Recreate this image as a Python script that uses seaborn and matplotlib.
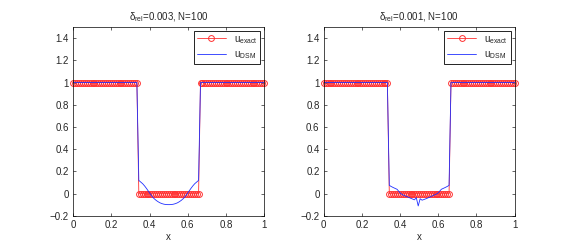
import numpy as np
import matplotlib

matplotlib.use('Agg')
import matplotlib.pyplot as plt
import seaborn as sns

# grid of N=100 points on [0, 1]
x = np.linspace(0, 1, 100)

# exact solution: 1 outside the middle third, 0 inside
u_exact = [1] * 34 + [0] * 32 + [1] * 34

# DSM reconstruction in the middle third
dsm_mid_003 = [0.12, 0.105, 0.09, 0.07, 0.047, 0.022, -0.003, -0.027,
               -0.045, -0.06, -0.072, -0.082, -0.089, -0.094, -0.097, -0.098,
               -0.098, -0.097, -0.094, -0.089, -0.082, -0.072, -0.06, -0.045,
               -0.027, -0.003, 0.022, 0.047, 0.07, 0.09, 0.105, 0.12]
dsm_mid_001 = [0.075, 0.065, 0.056, 0.048, 0.04, 0.02, 0.0, -0.01,
               -0.018, -0.025, -0.032, -0.04, -0.047, -0.055, -0.035, -0.11,
               -0.045, -0.058, -0.052, -0.045, -0.038, -0.03, -0.022, -0.014,
               -0.006, 0.002, 0.02, 0.04, 0.048, 0.056, 0.065, 0.075]
u_dsm_003 = [1] * 34 + dsm_mid_003 + [1] * 34
u_dsm_001 = [1] * 34 + dsm_mid_001 + [1] * 34

titulos = ['δ$_{\\mathregular{rel}}$=0.003, N=100', 'δ$_{\\mathregular{rel}}$=0.001, N=100']
curvas = [u_dsm_003, u_dsm_001]

sns.set_style('ticks')
plt.rcParams['font.family'] = ['Liberation Sans', 'DejaVu Sans']
plt.rcParams['mathtext.fontset'] = 'custom'
plt.rcParams['mathtext.rm'] = 'Liberation Sans'
plt.rcParams['font.size'] = 7

fig = plt.figure(figsize=(5.68, 2.52), dpi=100)
posicoes = [[0.129, 0.143, 0.336, 0.750], [0.570, 0.143, 0.336, 0.750]]

for pos, titulo, u_dsm in zip(posicoes, titulos, curvas):
    ax = fig.add_axes(pos)
    sns.lineplot(x=x, y=u_exact, ax=ax, color='#ff3030', lw=0.6, marker='o', markersize=4.2,
                 markerfacecolor='none', markeredgecolor='#ff3030', markeredgewidth=0.7,
                 label=r'u$_{\mathregular{exact}}$', clip_on=False)
    sns.lineplot(x=x, y=u_dsm, ax=ax, color='#2030ff', lw=0.6, label=r'u$_{\mathregular{DSM}}$')
    ax.set_xlim(0, 1)
    ax.set_ylim(-0.2, 1.5)
    ax.set_xticks([0, 0.2, 0.4, 0.6, 0.8, 1])
    ax.set_xticklabels(['0', '0.2', '0.4', '0.6', '0.8', '1'])
    ax.set_yticks([-0.2, 0, 0.2, 0.4, 0.6, 0.8, 1, 1.2, 1.4])
    ax.set_yticklabels(['\u22120.2', '0', '0.2', '0.4', '0.6', '0.8', '1', '1.2', '1.4'])
    ax.tick_params(direction='in', top=True, right=True, length=2.5, width=0.5, labelsize=7, pad=3)
    for s in ax.spines.values():
        s.set_linewidth(0.5)
        s.set_color('black')
    ax.set_xlabel('x', fontsize=7, labelpad=1)
    ax.set_ylabel('')
    ax.set_title(titulo, fontsize=7, pad=5)
    ax.legend(loc='upper right', fancybox=False, edgecolor='black', framealpha=1, fontsize=7,
              handlelength=3.0, borderaxespad=0.4, borderpad=0.3, labelspacing=0.4)
    ax.get_legend().get_frame().set_linewidth(0.6)

fig.savefig('out.png', dpi=100)
